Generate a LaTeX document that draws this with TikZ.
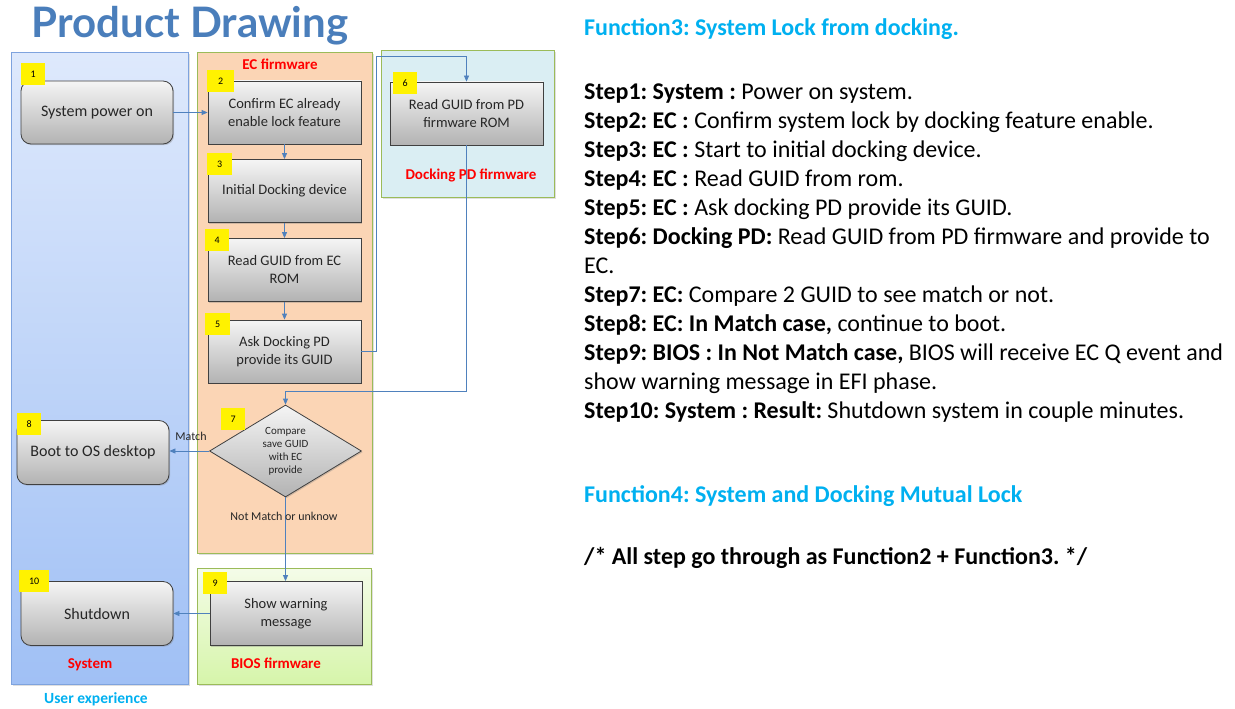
\documentclass[tikz,border=0pt]{standalone}
\usepackage{fontspec}
\setmainfont{Carlito}
\newfontfamily\titlefont{Lato}
\usetikzlibrary{arrows.meta,positioning,shapes.geometric,shadows,calc}
\frenchspacing

\definecolor{flowblue}{RGB}{79,129,189}
\definecolor{systop}{RGB}{222,233,252}
\definecolor{sysbot}{RGB}{160,192,245}
\definecolor{sysedge}{RGB}{126,163,222}
\definecolor{ecfill}{RGB}{251,213,181}
\definecolor{laneedge}{RGB}{155,187,89}
\definecolor{pdfill}{RGB}{218,238,243}
\definecolor{biostop}{RGB}{244,252,232}
\definecolor{biosbot}{RGB}{214,245,170}
\definecolor{headcyan}{RGB}{0,176,240}
\definecolor{titleblue}{RGB}{74,126,187}

\begin{document}
\begin{tikzpicture}[x=1pt, y=-1pt,
    lane/.style={draw=laneedge, line width=1pt, anchor=north west, inner sep=0pt,
        drop shadow={opacity=0.25, shadow xshift=1.2pt, shadow yshift=-1.2pt}},
    lanelabel/.style={text=red, font=\bfseries\fontsize{15}{18}\selectfont},
    stepbox/.style={draw=black!75, line width=0.8pt, top color=black!4, bottom color=black!30,
        drop shadow={opacity=0.35, shadow xshift=1.2pt, shadow yshift=-1.2pt},
        minimum width=153pt, minimum height=63pt, align=center, text=black!85,
        font=\fontsize{14.5}{18}\selectfont},
    sysbox/.style={stepbox, rounded corners=10pt, font=\fontsize{16}{19}\selectfont},
    decision/.style={stepbox, diamond, aspect=1.65, minimum width=152pt, minimum height=92pt,
        inner sep=0pt, font=\fontsize{11}{13}\selectfont},
    badge/.style={fill=yellow, anchor=north west, minimum height=22pt, inner sep=0pt,
        font=\fontsize{10}{12}\selectfont},
    flow/.style={draw=flowblue, line width=0.8pt, -{Triangle[length=6pt,width=5pt]}},
    flowlabel/.style={text=black!85, font=\fontsize{12}{14}\selectfont}
]
\useasboundingbox (0,0) rectangle (1235,709);

% title
\node[text=titleblue, font=\titlefont\bfseries\fontsize{42}{48}\selectfont] (title) at (190,26) {Product Drawing};

% lanes
\node[lane, draw=sysedge, top color=systop, bottom color=sysbot, minimum width=177pt, minimum height=632pt] (sys) at (11,52) {};
\node[lane, fill=ecfill, minimum width=175pt, minimum height=501pt] (ec) at (197,52) {};
\node[lane, fill=pdfill, minimum width=173pt, minimum height=147pt] (pd) at (381,50) {};
\node[lane, top color=biostop, bottom color=biosbot, minimum width=174pt, minimum height=116pt] (bios) at (197,568) {};

\node[lanelabel] (eclabel) at (280,64) {EC firmware};
\node[lanelabel] (pdlabel) at (471,175) {Docking PD firmware};
\node[lanelabel] (syslabel) at (90,665) {System};
\node[lanelabel] (bioslabel) at (276,663) {BIOS firmware};
\node[text=headcyan, font=\bfseries\fontsize{15.5}{18}\selectfont] (uxlabel) at (96,699) {User experience};

% steps
\node[sysbox, minimum width=152pt] (b1) at (97,112.5) {System power on};
\node[stepbox] (b2) at (284.5,112.5) {Confirm EC already\\enable lock feature};
\node[stepbox] (b3) at (284.5,191) {Initial Docking device};
\node[stepbox] (b4) at (284.5,270) {Read GUID from EC\\ROM};
\node[stepbox] (b5) at (284.5,351.5) {Ask Docking PD\\provide its GUID};
\node[stepbox] (b6) at (466.5,113.5) {Read GUID from PD\\firmware ROM};
\node[decision] (d7) at (285.5,451) {Compare\\save GUID\\with EC\\provide};
\node[sysbox, minimum width=152pt, minimum height=64pt] (b8) at (93,452.5) {Boot to OS desktop};
\node[stepbox, minimum width=152pt, minimum height=64pt] (b9) at (286,613.5) {Show warning\\message};
\node[sysbox, minimum width=152pt, minimum height=64pt] (b10) at (97,613.5) {Shutdown};

% number tags
\foreach \num/\px/\py/\w in {1/21/63/24, 2/207/70/27, 3/207/153/25, 4/205/229/24, 5/205/313/25,
    6/393/72/24, 7/221/408/24, 8/17/413/24, 9/203/572/24, 10/19/570/30}
  \node[badge, minimum width=\w pt] (tag\num) at (\px,\py) {\num};

% connectors
\draw[flow] (b1.east) -- (b2.west |- b1.east);
\draw[flow] (b2) -- (b3);
\draw[flow] (b3) -- (b4);
\draw[flow] (b4) -- (b5);
\draw[flow] (b5.east) -- ++(15,0) |- ($(b6.north)+(0,-25)$) -- (b6.north);
\draw[flow] (b6.south) -- ++(0,246) -| (d7.north);
\draw[flow] (d7.west) -- (b8.east |- d7.west);
\draw[flow] (d7.south) -- (d7.south |- b9.north);
\draw[flow] (b9.west) -- (b10.east |- b9.west);

\node[flowlabel] (matchlabel) at (191,436) {Match};
\node[flowlabel] (nomatchlabel) at (284,516) {Not Match or unknow};

% description
\node[text=headcyan, anchor=west, inner sep=0pt, font=\bfseries\fontsize{24}{29}\selectfont] (func3) at (584,29) {Function3: System Lock from docking.};
\node[anchor=north west, inner sep=0pt, align=left, font=\fontsize{24}{29}\selectfont] (steps) at (584,84) {%
\textbf{Step1: System :} Power on system.\\
\textbf{Step2: EC :} Confirm system lock by docking feature enable.\\
\textbf{Step3: EC :} Start to initial docking device.\\
\textbf{Step4: EC :} Read GUID from rom.\\
\textbf{Step5: EC :} Ask docking PD provide its GUID.\\
\textbf{Step6: Docking PD:} Read GUID from PD firmware and provide to\\
EC.\\
\textbf{Step7: EC:} Compare 2 GUID to see match or not.\\
\textbf{Step8: EC: In Match case,} continue to boot.\\
\textbf{Step9: BIOS : In Not Match case,} BIOS will receive EC Q event and\\
show warning message in EFI phase.\\
\textbf{Step10: System : Result:} Shutdown system in couple minutes.};
\node[text=headcyan, anchor=west, inner sep=0pt, font=\bfseries\fontsize{24}{29}\selectfont] (func4) at (584,496) {Function4: System and Docking Mutual Lock};
\node[anchor=west, inner sep=0pt, font=\bfseries\fontsize{24}{29}\selectfont] (allsteps) at (584,558) {/* All step go through as Function2 + Function3. */};
\end{tikzpicture}
\end{document}
